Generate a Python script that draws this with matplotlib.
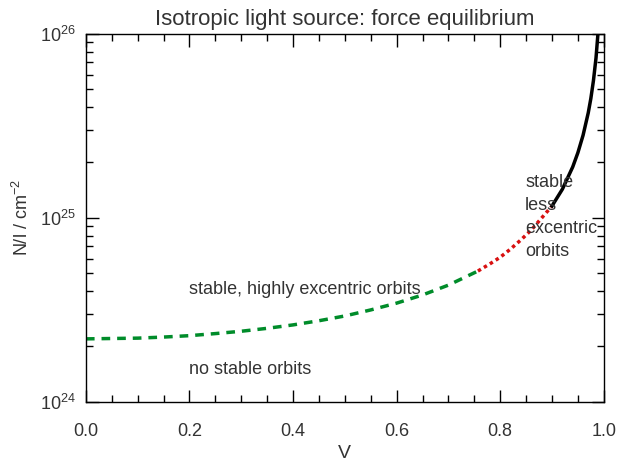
import matplotlib
matplotlib.use("Agg")
import matplotlib.pyplot as plt
import numpy as np
from matplotlib.ticker import MultipleLocator, LogLocator

plt.rcParams['font.family'] = ['Liberation Sans', 'DejaVu Sans']
plt.rcParams['mathtext.fontset'] = 'custom'
plt.rcParams['mathtext.rm'] = 'Liberation Sans'
plt.rcParams['mathtext.it'] = 'Liberation Sans'

# values (N/l in units of 1e24 cm^-2)
v_green = [0.00, 0.05, 0.10, 0.15, 0.20, 0.25, 0.30, 0.35, 0.40, 0.45,
           0.50, 0.55, 0.60, 0.65, 0.70, 0.757]
n_green = [2.20, 2.21, 2.22, 2.25, 2.29, 2.35, 2.42, 2.51, 2.62, 2.76,
           2.93, 3.16, 3.44, 3.81, 4.31, 5.14]
v_red = [0.757, 0.78, 0.80, 0.82, 0.84, 0.86, 0.88, 0.90]
n_red = [5.14, 5.62, 6.11, 6.77, 7.59, 8.59, 9.98, 11.6]
v_black = [0.90, 0.92, 0.94, 0.95, 0.96, 0.97, 0.975, 0.98, 0.985, 0.99]
n_black = [11.6, 14.3, 18.9, 22.6, 28.1, 37.2, 44.5, 55.6, 74.0, 111.0]

txt = '#333333'
fig = plt.figure(figsize=(6.18, 4.63), dpi=100)
ax = fig.add_axes([0.139, 0.132, 0.838, 0.795])

ax.plot(v_green, np.array(n_green) * 1e24, color='#008C2A', lw=2.5, ls=(0, (2.5, 2)))
ax.plot(v_red, np.array(n_red) * 1e24, color='#D81010', lw=2.5, ls=(0, (1, 1)))
ax.plot(v_black, np.array(n_black) * 1e24, color='black', lw=2.5)

ax.set_yscale('log')
ax.set_xlim(0, 1)
ax.set_ylim(1e24, 1e26)
ax.xaxis.set_major_locator(MultipleLocator(0.2))
ax.xaxis.set_minor_locator(MultipleLocator(0.05))
ax.yaxis.set_major_locator(LogLocator(base=10))
ax.yaxis.set_minor_locator(LogLocator(base=10, subs=np.arange(2, 10)))
ax.xaxis.set_major_formatter(plt.FuncFormatter(lambda x, p: '%.1f' % x))

ax.tick_params(which='both', direction='in', top=True, right=True,
               labelsize=13, colors='black', labelcolor=txt)
ax.tick_params(axis='x', which='major', pad=15)
ax.tick_params(axis='y', which='major', pad=7)
ax.tick_params(which='major', length=9, width=1)
ax.tick_params(which='minor', length=5, width=1)
for s in ax.spines.values():
    s.set_linewidth(1)

ax.set_title('Isotropic light source: force equilibrium', fontsize=16, color=txt, pad=6)
ax.set_xlabel('V', fontsize=14, color=txt, labelpad=4)
ax.set_ylabel('N/l / cm$^{-2}$', fontsize=13, color=txt, labelpad=6)

ax.text(0.2, 4.1e24, 'stable, highly excentric orbits', fontsize=13, color=txt, va='center')
ax.text(0.2, 1.5e24, 'no stable orbits', fontsize=13, color=txt, va='center')
ax.text(0.848, 1.72e25, 'stable\nless\nexcentric\norbits', fontsize=13, color=txt,
        va='top', linespacing=1.45)

fig.savefig('out.png', dpi=100)
